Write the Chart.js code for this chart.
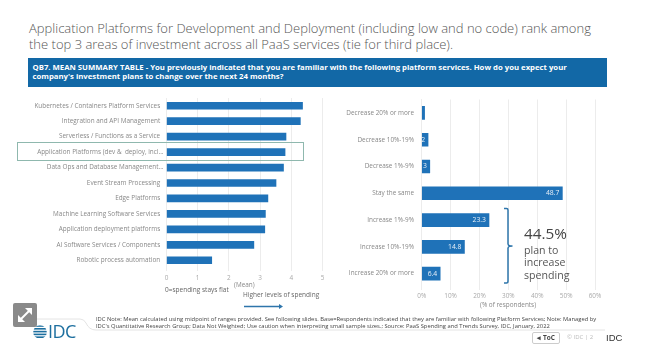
<!DOCTYPE html>
<html>
<head>
<meta charset="utf-8">
<script src="https://cdn.jsdelivr.net/npm/chart.js@4"></script>
<style>
    html, body { margin: 0; padding: 0; background: #fff; }
    body { width: 647px; height: 359px; overflow: hidden; position: relative; font-family: "Open Sans", sans-serif; filter: blur(0.35px); }
    canvas { position: absolute; }
    .t { position: absolute; white-space: nowrap; color: #777; }
    #title { left: 29px; top: 21px; font-size: 13px; font-weight: 300; line-height: 15.6px; color: #555; }
    #banner { position: absolute; left: 28px; top: 58px; width: 579px; height: 29px; background: #1268a6; color: #fff; font-size: 7.75px; font-weight: 700; line-height: 9.4px; padding: 5px 4.5px; box-sizing: border-box; }
    #box { position: absolute; left: 17px; top: 142px; width: 287px; height: 19px; border: 1px solid #8fb8ae; box-sizing: border-box; }
    #big { left: 524px; top: 223px; font-size: 15.3px; color: #444; }
    #plan { left: 524px; top: 244px; font-size: 10.6px; line-height: 12.3px; color: #555; }
    .foot { left: 96px; font-size: 5.8px; color: #444; }
    #toc { position: absolute; left: 532px; top: 332px; width: 26px; height: 10px; border: 1px solid #ccc; border-radius: 2px; font-size: 6.5px; font-weight: 700; color: #444; text-align: center; line-height: 10px; }
</style>
</head>
<body>
<canvas id="meanChart" style="left:0;top:88px"></canvas>
<canvas id="respChart" style="left:330px;top:88px"></canvas>

<div class="t" id="title">Application Platforms for Development and Deployment (including low and no code) rank among<br>the top 3 areas of investment across all PaaS services (tie for third place).</div>
<div id="banner">QB7. MEAN SUMMARY TABLE - You previously indicated that you are familiar with the following platform services. How do you expect your<br>company's investment plans to change over the next 24 months?</div>
<div id="box"></div>

<div class="t" style="left:234px;top:280px;font-size:6.4px;color:#888">(Mean)</div>
<div class="t" style="left:165px;top:285px;font-size:6.5px;color:#666">0=spending stays flat</div>
<div class="t" style="left:243px;top:290px;font-size:6.5px;color:#666">Higher levels of spending</div>
<div class="t" style="left:480px;top:300px;font-size:6.4px;color:#888">(% of respondents)</div>

<svg width="647" height="359" style="position:absolute;left:0;top:0">
    <defs><clipPath id="globe"><circle cx="40" cy="332" r="6.8"/></clipPath></defs>
    <path d="M244 306.5H280" stroke="#2e75ab" stroke-width="1.6"/>
    <path d="M279 304L283 306.5L279 309Z" fill="#2e75ab"/>
    <path d="M504 208.5H506.5Q508 208.5 508 210V244Q508 246 512.5 246Q508 246 508 248V281Q508 283 506.5 283H504" fill="none" stroke="#2e75ab" stroke-width="1.5"/>
    <path d="M33 319H80Q84 319 86 323Q89 330 96 330H605" fill="none" stroke="#ddd" stroke-width="0.8"/>
    <rect x="13" y="303" width="24" height="24" rx="2" fill="#8a8a8a"/>
    <g stroke="#fff" stroke-width="2"><path d="M20 320L30 310"/></g>
    <g fill="#fff"><path d="M18 315V322H25Z"/><path d="M25 308H32V315Z"/></g>
    <g clip-path="url(#globe)" fill="#1d6f9f">
        <rect x="33" y="325.2" width="14" height="1.6"/>
        <rect x="33" y="328" width="14" height="1.6"/>
        <rect x="33" y="330.8" width="14" height="1.6"/>
        <rect x="33" y="333.6" width="14" height="1.6"/>
        <rect x="33" y="336.4" width="14" height="1.6"/>
    </g>
</svg>

<div class="t" id="big">44.5%</div>
<div class="t" id="plan">plan to<br>increase<br>spending</div>

<div class="t" style="left:48px;top:319px;font-size:18px;color:#1d6f9f;letter-spacing:-0.5px">IDC</div>
<div class="t foot" style="top:315px">IDC Note: Mean calculated using midpoint of ranges provided. See following slides. Base=Respondents indicated that they are familiar with following Platform Services; Note: Managed by</div>
<div class="t foot" style="top:322px">IDC's Quantitative Research Group; Data Not Weighted; Use caution when interpreting small sample sizes.; Source: PaaS Spending and Trends Survey, IDC, January, 2022</div>
<div id="toc">◂ ToC</div>
<div class="t" style="left:567px;top:333px;font-size:6px;color:#bbb">© IDC  |  2</div>
<div class="t" style="left:606px;top:332px;font-size:9.5px;color:#333;font-family:'Liberation Sans'">IDC</div>

<script>
// left panel
// the trailing spaces are in the original labels, only the cut off ones reach further right
const platformNames = [
    'Kubernetes / Containers Platform Services  ',
    'Integration and API Management  ',
    'Serverless / Functions as a Service  ',
    'Application Platforms (dev &  deploy, incl...',
    'Data Ops and Database Management...',
    'Event Stream Processing  ',
    'Edge Platforms  ',
    'Machine Learning Software Services  ',
    'Application deployment platforms  ',
    'AI Software Services / Components  ',
    'Robotic process automation  ',
];
const meanValues = [4.36, 4.29, 3.83, 3.80, 3.75, 3.51, 3.25, 3.17, 3.15, 2.80, 1.45];
const meanTicks = [0, 1, 2, 3, 4, 5];

// right panel
const changeNames = [
    'Decrease 20% or more',
    'Decrease 10%-19%',
    'Decrease 1%-9%',
    'Stay the same',
    'Increase 1%-9%',
    'Increase 10%-19%',
    'Increase 20% or more',
];
const respondentValues = [1.0, 2.2, 2.8, 48.7, 23.3, 14.8, 6.4];
const respondentLabels = ['', '2', '3', '48.7', '23.3', '14.8', '6.4'];
const respondentTicks = [0, 10, 20, 30, 40, 50, 60];

const barBlue = '#1f72b8';
const font = { family: '"Open Sans", sans-serif', size: 6.4 };

// prints the value inside the bar end, like the original
const barLabels = {
    id: 'barLabels',
    afterDatasetsDraw(chart) {
        const ctx = chart.ctx;
        ctx.save();
        ctx.fillStyle = '#e8f0f8';
        ctx.font = '6.8px "Open Sans", sans-serif';
        ctx.textAlign = 'right';
        ctx.textBaseline = 'middle';
        chart.getDatasetMeta(0).data.forEach((bar, i) => {
            ctx.fillText(respondentLabels[i], bar.x - 3, bar.y);
        });
        ctx.restore();
    },
};

function makeChart(id, w, h, names, values, opts) {
    const canvas = document.getElementById(id);
    canvas.style.width = w + 'px';
    canvas.style.height = h + 'px';
    canvas.width = w;
    canvas.height = h;
    return new Chart(canvas, {
        type: 'bar',
        data: {
            labels: names,
            datasets: [{ data: values, backgroundColor: barBlue, barThickness: opts.thickness, borderSkipped: false }],
        },
        plugins: opts.plugins || [],
        options: {
            indexAxis: 'y',
            responsive: false,
            animation: false,
            layout: { autoPadding: false, padding: { top: opts.top, right: opts.right, bottom: 0, left: 0 } },
            plugins: { legend: { display: false }, tooltip: { enabled: false } },
            scales: {
                x: {
                    min: 0,
                    max: opts.max,
                    afterBuildTicks: axis => { axis.ticks = opts.ticks.map(v => ({ value: v })); },
                    afterFit: axis => { axis.height = opts.axisHeight; },
                    grid: { color: '#ececec', tickLength: 3, tickColor: '#ececec' },
                    border: { display: false },
                    ticks: { color: '#aaa', font: font, padding: opts.tickPad, maxRotation: 0, callback: opts.tickText },
                },
                y: {
                    afterFit: axis => { axis.width = opts.axisWidth; },
                    grid: { display: false, drawTicks: false, tickLength: 0 },
                    border: { color: '#ececec' },
                    ticks: { color: '#888', font: font, padding: opts.labelPad, autoSkip: false },
                },
            },
        },
    });
}

makeChart('meanChart', 330, 200, platformNames, meanValues, {
    thickness: 7, top: 10, right: 7.5, max: 5, ticks: meanTicks, axisHeight: 20, axisWidth: 166.5,
    tickPad: 3, labelPad: 3, tickText: v => v,
});

makeChart('respChart', 317, 220, changeNames, respondentValues, {
    thickness: 13, top: 4.4, right: 52, max: 60, ticks: respondentTicks, axisHeight: 21, axisWidth: 91.7,
    tickPad: 2, labelPad: 7.7, tickText: v => v + '%',
    plugins: [barLabels],
});
</script>
</body>
</html>
